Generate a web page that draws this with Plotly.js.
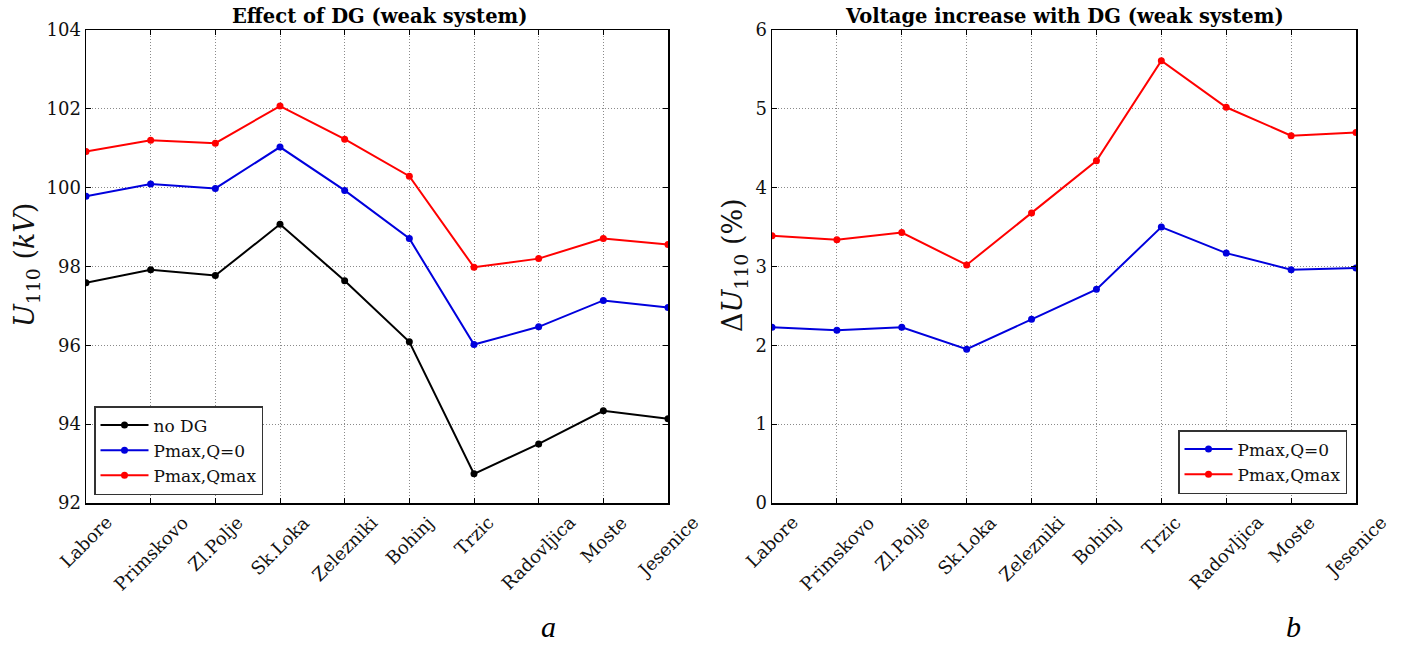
<!DOCTYPE html>
<html>
<head>
<meta charset="utf-8">
<script src="https://cdn.plot.ly/plotly-3.0.1.min.js"></script>
<style>html,body{margin:0;padding:0;background:#fff;}#chart{width:1402px;height:646px;}</style>
</head>
<body>
<div id="chart"></div>
<script>
const categories = ["Labore","Primskovo","Zl.Polje","Sk.Loka","Zelezniki","Bohinj","Trzic","Radovljica","Moste","Jesenice"];
const noDG      = [97.59, 97.92, 97.77, 99.07, 97.64, 96.09, 92.74, 93.50, 94.34, 94.14];
const pmaxQ0    = [99.78, 100.09, 99.98, 101.03, 99.93, 98.71, 96.02, 96.47, 97.14, 96.96];
const pmaxQmax  = [100.92, 101.20, 101.13, 102.07, 101.23, 100.29, 97.98, 98.20, 98.71, 98.56];
const dU_Q0     = [2.23, 2.19, 2.23, 1.95, 2.33, 2.71, 3.50, 3.17, 2.96, 2.98];
const dU_Qmax   = [3.39, 3.34, 3.43, 3.02, 3.68, 4.34, 5.61, 5.02, 4.66, 4.70];
const leftTicks = [92, 94, 96, 98, 100, 102, 104];
const rightTicks = [0, 1, 2, 3, 4, 5, 6];

const serif = "DejaVu Serif, serif";
const idx = categories.map((c, i) => i);

function tr(y, name, color, xa, ya, leg, grp) {
  return {x: idx, y: y, name: name, type: 'scatter', mode: 'lines+markers',
    line: {color: color, width: 2}, marker: {color: color, size: 7},
    xaxis: xa, yaxis: ya, legend: leg, legendgroup: grp};
}

const data = [
  tr(noDG, "no DG", "#000000", 'x', 'y', 'legend', 'a1'),
  tr(pmaxQ0, "Pmax,Q=0", "#0000dd", 'x', 'y', 'legend', 'a2'),
  tr(pmaxQmax, "Pmax,Qmax", "#ff0000", 'x', 'y', 'legend', 'a3'),
  tr(dU_Q0, "Pmax,Q=0", "#0000dd", 'x2', 'y2', 'legend2', 'b1'),
  tr(dU_Qmax, "Pmax,Qmax", "#ff0000", 'x2', 'y2', 'legend2', 'b2')
];

const xBase = {
  range: [0, 9], tickvals: idx, ticktext: categories, showticklabels: false,
  showgrid: true, gridcolor: '#8a8a8a', griddash: '1px,2px', gridwidth: 1,
  showline: true, linecolor: '#000', linewidth: 1.5, mirror: 'ticks',
  ticks: 'inside', ticklen: 5, tickcolor: '#000', zeroline: false
};
const yBase = {
  showgrid: true, gridcolor: '#8a8a8a', griddash: '1px,2px', gridwidth: 1,
  showline: true, linecolor: '#000', linewidth: 1.5, mirror: 'ticks',
  ticks: 'inside', ticklen: 5, tickcolor: '#000',
  tickfont: {family: serif, size: 18, color: '#111'}, zeroline: false
};

const annotations = [
  {text: "<b>Effect of DG (weak system)</b>", xref: 'paper', yref: 'paper', xanchor: 'center', yanchor: 'middle',
   x: 379/1402, y: 1 - 17/646, showarrow: false, font: {family: serif, size: 19.5, color: '#000'}},
  {text: "<b>Voltage increase with DG (weak system)</b>", xref: 'paper', yref: 'paper', xanchor: 'center', yanchor: 'middle',
   x: 1064/1402, y: 1 - 17/646, showarrow: false, font: {family: serif, size: 19.5, color: '#000'}},
  {text: "<i>U</i><sub>110</sub> (<i>kV</i>)", xref: 'paper', yref: 'paper', textangle: -90, xanchor: 'center', yanchor: 'middle',
   x: 26/1402, y: 1 - 265/646, showarrow: false, font: {family: serif, size: 27, color: '#111'}},
  {text: "Δ<i>U</i><sub>110</sub> (%)", xref: 'paper', yref: 'paper', textangle: -90, xanchor: 'center', yanchor: 'middle',
   x: 734/1402, y: 1 - 265/646, showarrow: false, font: {family: serif, size: 27, color: '#111'}},
  {text: "<i>a</i>", xref: 'paper', yref: 'paper', xanchor: 'center', yanchor: 'middle',
   x: 548/1402, y: 1 - 626/646, showarrow: false, font: {family: "Liberation Serif, serif", size: 30, color: '#000'}},
  {text: "<i>b</i>", xref: 'paper', yref: 'paper', xanchor: 'center', yanchor: 'middle',
   x: 1293/1402, y: 1 - 626/646, showarrow: false, font: {family: "Liberation Serif, serif", size: 30, color: '#000'}}
];
['x', 'x2'].forEach(xr => {
  categories.forEach((c, i) => {
    annotations.push({text: c, xref: xr, yref: 'paper', x: i, y: 1 - 509/646,
      xanchor: 'center', yanchor: 'top', textangle: -45, showarrow: false,
      font: {family: serif, size: 18, color: '#111'}});
  });
});

const legBase = {yanchor: 'bottom', bgcolor: '#fff', bordercolor: '#333', borderwidth: 1.5,
  font: {family: serif, size: 17, color: '#111'}, tracegroupgap: 0, itemwidth: 48};

const layout = {
  width: 1402, height: 646,
  margin: {l: 0, r: 0, t: 0, b: 0},
  paper_bgcolor: '#fff', plot_bgcolor: '#fff',
  showlegend: true,
  xaxis: Object.assign({}, xBase, {domain: [86/1402, 668/1402], anchor: 'y'}),
  yaxis: Object.assign({}, yBase, {domain: [1 - 503/646, 1 - 30/646], range: [92, 104], tickvals: leftTicks, anchor: 'x'}),
  xaxis2: Object.assign({}, xBase, {domain: [772/1402, 1356/1402], anchor: 'y2'}),
  yaxis2: Object.assign({}, yBase, {domain: [1 - 503/646, 1 - 30/646], range: [0, 6], tickvals: rightTicks, anchor: 'x2'}),
  legend: Object.assign({}, legBase, {x: 94/1402, y: 1 - 495/646, xanchor: 'left'}),
  legend2: Object.assign({}, legBase, {x: 1347/1402, y: 1 - 494/646, xanchor: 'right'}),
  annotations: annotations
};

Plotly.newPlot('chart', data, layout, {staticPlot: true, displayModeBar: false});
</script>
</body>
</html>
